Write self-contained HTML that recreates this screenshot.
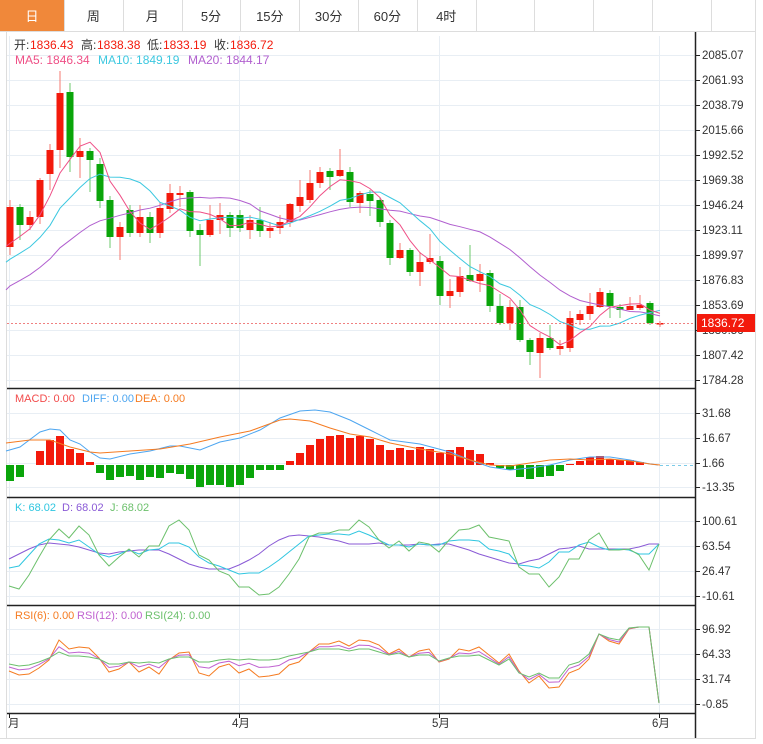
<!DOCTYPE html>
<html><head><meta charset="utf-8"><style>
body{margin:0;background:#fff;width:763px;height:744px;overflow:hidden;font-family:"Liberation Sans","Noto Sans CJK SC",sans-serif;}
svg{position:absolute;left:0;top:0}
</style></head><body>
<svg id="s" width="763" height="744" xmlns="http://www.w3.org/2000/svg" font-family="Liberation Sans, Noto Sans CJK SC, sans-serif"></svg>
<script>
const S=document.getElementById('s');let h='';
function L(x1,y1,x2,y2,c,w,d){h+=`<line x1="${x1}" y1="${y1}" x2="${x2}" y2="${y2}" stroke="${c}" stroke-width="${w||1}" ${d?'stroke-dasharray="'+d+'"':''}/>`;}
function R(x,y,w,hh,c){h+=`<rect x="${x}" y="${y}" width="${w}" height="${hh}" fill="${c}"/>`;}
function T(x,y,t,c,sz,a){h+=`<text x="${x}" y="${y}" fill="${c}" font-size="${sz||12}" ${a?'text-anchor="'+a+'"':''}>${t}</text>`;}
function P(pts,c,w){h+=`<polyline fill="none" stroke="${c}" stroke-width="${w||1}" points="${pts.map(p=>p[0].toFixed(1)+','+p[1].toFixed(1)).join(' ')}"/>`;}
// tabs
R(0,0,763,32,'#fff');
R(0,0,64,31,'#f0883a');
const tabs=['日','周','月','5分','15分','30分','60分','4时'];
for(let i=0;i<13;i++){let x=i*58.8+5;}
L(0,31.5,755,31.5,'#ddd');L(755.5,0,755.5,738,'#ddd');
for(let i=1;i<13;i++){let x=Math.round(64+ (i-1)*58.8)+.5;L(x,0,x,31,'#ddd');}
tabs.forEach((t,i)=>{let cx=i==0?32:64+(i-1)*58.8+29.4;T(cx,21,t,i==0?'#fff':'#333',13,'middle');});
// frame
L(6.5,32,6.5,738,'#ddd');L(0,738.5,756,738.5,'#ddd');
// grids
const G='#e8eef4';
[55,80,105,130,155,180,205,230,255,280,305,330,355,380].forEach(y=>L(7,y+.5,694,y+.5,G));
[413,438,463,487].forEach(y=>L(7,y+.5,694,y+.5,G));
[521,546,571,596].forEach(y=>L(7,y+.5,694,y+.5,G));
[629,654,679,704].forEach(y=>L(7,y+.5,694,y+.5,G));
[9,239,439,659].forEach(x=>L(x+.5,36,x+.5,713,G));
// axis
L(695.5,32,695.5,738,'#222',1.5);
[388,497,605,713].forEach(y=>L(7,y+.5,695,y+.5,'#222',1.5));
const pl=[['2085.07',55],['2061.93',80],['2038.79',105],['2015.66',130],['1992.52',155],['1969.38',180],['1946.24',205],['1923.11',230],['1899.97',255],['1876.83',280],['1853.69',305],['1830.56',330],['1807.42',355],['1784.28',380],
['31.68',413],['16.67',438],['1.66',463],['-13.35',487],['100.61',521],['63.54',546],['26.47',571],['-10.61',596],['96.92',629],['64.33',654],['31.74',679],['-0.85',704]];
pl.forEach(p=>{L(695,p[1]+.5,700,p[1]+.5,'#222');T(702,p[1]+4,p[0],'#333',11.5);});
// candles
const C=[['r',207,247,200,255],['g',207,225,204,240],['r',217,225,211,230],['r',180,217,178,224],['r',150,174,144,190],['r',93,150,71,168],['g',92,157,83,172],['r',151,157,138,178],['g',151,160,148,192],['g',164,201,158,208],['g',200,237,196,248],['r',227,237,222,260],['g',210,233,205,237],['r',217,233,205,237],['g',217,233,212,243],['r',208,233,202,238],['r',193,209,184,213],['r',193,195,186,207],['g',192,231,190,237],['g',230,235,224,266],['r',220,235,205,237],['r',215,220,203,234],['g',215,228,212,237],['g',215,228,210,232],['r',220,230,215,239],['g',220,231,207,237],['r',228,231,222,238],['r',222,228,215,234],['r',204,222,203,227],['r',197,206,180,212],['r',183,200,170,203],['r',172,183,167,188],['g',171,177,168,190],['r',170,176,149,177],['g',172,202,167,207],['r',193,203,191,213],['g',194,201,190,216],['g',200,222,198,227],['g',223,258,220,265],['r',250,258,243,259],['g',250,272,248,276],['r',262,272,252,286],['r',258,262,234,264],['g',261,296,256,305],['r',291,296,279,308],['r',276,292,267,297],['g',275,281,245,282],['r',274,281,264,292],['g',273,306,270,312],['g',306,323,294,325],['r',307,323,300,330],['g',307,340,300,342],['g',340,352,338,365],['r',338,353,333,378],['g',338,348,325,350],['r',346,349,340,355],['r',318,348,311,352],['r',314,320,310,325],['r',306,314,293,320],['r',292,307,288,308],['g',293,306,290,318],['g',307,310,304,318],['r',306,310,297,310],['r',305,308,295,310],['g',303,323,301,325],['r',323,324,321,327]];
const RED='#f31a0c',GRN='#0aa50a';
C.forEach((c,i)=>{let x=10+10*i;let col=c[0]=='r'?RED:GRN;let wc=c[0]=='r'?'#f57a70':'#6cc86c';L(x,c[3],x,c[4],wc);R(x-3.5,c[1],7,Math.max(1.5,c[2]-c[1]),col);});
// MAs
let cl=[];for(let k=0;k<20;k++)cl.push(340-95*k/19);
C.forEach(c=>cl.push(c[0]=='r'?c[1]:c[2]));
function ma(n){let o=[];for(let i=0;i<C.length;i++){let s=0;for(let k=0;k<n;k++)s+=cl[20+i-k];o.push([10+10*i,s/n]);}return o;}
let m5=ma(5),m10=ma(10),m20=ma(20);m5.unshift([6,m5[0][1]+3]);m10.unshift([6,m10[0][1]+3]);m20.unshift([6,m20[0][1]+4]);
P(m20,'#b15fcf');P(m10,'#3cc8e0');P(m5,'#ef4f86');
L(7,323.5,694,323.5,'#f08080',1,'2,2');
R(697,314,58,18,'#f31a0c');T(701,327,'1836.72','#fff',12);
// legend
T(14,49,'开:','#333',12);T(30,49,'1836.43','#f31a0c',12);T(81,49,'高:','#333',12);T(97,49,'1838.38','#f31a0c',12);T(147,49,'低:','#333',12);T(163,49,'1833.19','#f31a0c',12);T(214,49,'收:','#333',12);T(230,49,'1836.72','#f31a0c',12);
T(15,64,'MA5: 1846.34','#ef4f86',12);T(98,64,'MA10: 1849.19','#3cc8e0',12);T(188,64,'MA20: 1844.17','#b15fcf',12);
// MACD
const mb=[481,477,465,451,440,436,449,453,462,473,480,477,476,480,477,478,473,474,479,487,485,485,487,485,478,470,470,470,461,453,445,439,436,435,438,436,439,445,450,448,450,447,449,453,450,447,450,454,463,468,470,477,479,477,476,471,464,461,457,456,459,460,460,462,465,465];
const Z=465;mb.forEach((y,i)=>{let x=10+10*i;if(Math.abs(y-Z)<1)return;R(x-4,Math.min(y,Z),8,Math.abs(y-Z),y<Z?RED:GRN);});
const dif=[[6,451],[20,447],[40,432],[50,429],[60,430],[70,440],[80,444],[90,452],[100,458],[110,459],[130,454],[150,451],[170,446],[180,446],[200,450],[220,442],[240,438],[260,430],[280,418],[300,411],[315,410],[330,412],[350,420],[370,430],[390,440],[420,444],[450,452],[470,460],[490,467],[510,470],[530,468],[550,465],[570,460],[590,457],[610,457],[630,460],[650,464],[658,465]];
const dea=[[6,443],[30,440],[50,440],[70,447],[90,452],[100,453],[130,451],[160,449],[190,444],[220,437],[250,431],[280,420],[290,419],[310,421],[330,428],[350,434],[370,437],[390,443],[420,449],[450,454],[470,460],[490,465],[510,466],[530,463],[550,460],[570,459],[590,460],[610,459],[630,461],[650,464],[660,465]];
P(dif,'#4ea6f0');P(dea,'#f57b21');L(660,465.5,694,465.5,'#7ccbe8',1,'3,3');
T(15,402,'MACD: 0.00','#f24b4b',11);T(82,402,'DIFF: 0.00','#4ea6f0',11);T(135,402,'DEA: 0.00','#f57b21',11);
// KDJ
function ser(a){return a.map((y,i)=>[9+10*i,y]);}
const J=[586,589,575,557,540,529,538,526,535,555,566,557,549,557,546,546,526,520,530,555,560,571,575,587,587,595,594,587,574,559,537,533,533,530,530,520,527,540,548,541,551,542,544,552,540,530,529,525,537,539,541,567,574,574,587,577,559,559,540,533,550,550,549,555,570,544];
const K=[568,566,555,544,539,540,543,540,547,554,557,554,550,554,550,549,543,543,547,557,563,566,570,574,573,573,567,560,552,544,536,535,534,534,535,531,535,540,545,545,547,544,545,545,541,540,540,541,549,551,554,565,566,568,562,552,552,545,542,547,550,549,550,554,554,544];
const D=[559,554,549,545,543,544,545,547,550,553,554,552,551,550,550,550,554,559,564,567,569,569,569,565,560,554,546,540,536,535,536,537,539,541,544,544,544,543,545,545,545,544,545,544,544,547,550,554,557,560,563,564,561,559,554,549,548,546,549,549,549,549,549,547,544,544];
P(ser(D),'#8a5ad6');P(ser(K),'#2fc6e0');P(ser(J),'#6cc06c');
T(15,511,'K: 68.02','#2fc6e0',11);T(62,511,'D: 68.02','#8a5ad6',11);T(110,511,'J: 68.02','#6cc06c',11);
// RSI
const R6=[671,675,674,668,660,640,649,647,648,658,672,669,662,672,667,674,660,653,652,673,676,667,664,673,669,677,676,674,665,662,652,644,644,641,646,640,641,645,654,649,657,651,649,662,659,649,651,647,655,663,654,671,683,676,688,687,673,669,659,634,641,644,629,627,627,703];
const R24=[664,666,665,662,658,652,656,656,657,659,664,664,662,663,662,663,659,657,657,662,662,660,659,660,659,660,660,659,656,654,652,649,649,649,651,649,649,652,655,653,657,655,655,661,658,656,656,655,660,665,659,673,677,673,678,678,665,662,654,634,638,640,628,627,627,703];
const R12=R6.map((v,i)=>i>=58?(v+R24[i])/2:(v+R24[i]*1.3)/2.3);
P(ser(R6),'#f57b21');P(ser(R12),'#c062d0');P(ser(R24),'#6cc06c');
T(15,619,'RSI(6): 0.00','#f57b21',11);T(77,619,'RSI(12): 0.00','#c062d0',11);T(145,619,'RSI(24): 0.00','#6cc06c',11);
// x labels
[[9,'月'],[239,'4月'],[439,'5月'],[659,'6月']].forEach(p=>{L(p[0]+.5,713,p[0]+.5,718,'#222');T(p[0]+(p[1].length>1?-7:-1),727,p[1],'#333',11.5);});
S.innerHTML=h;
</script>
</body></html>
